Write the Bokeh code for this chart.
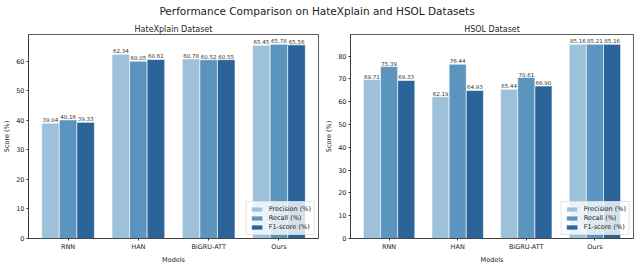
from bokeh.plotting import figure
from bokeh.layouts import column, row
from bokeh.models import Div, Legend, LegendItem, FixedTicker, Range1d, ColumnDataSource
from bokeh.core.properties import value
from bokeh.embed import file_html
from bokeh.resources import INLINE

models = ["RNN", "HAN", "BiGRU-ATT", "Ours"]
series = ["Precision (%)", "Recall (%)", "F1-score (%)"]
hx_precision = [39.04, 62.34, 60.78, 65.45]
hx_recall = [40.16, 60.05, 60.52, 65.78]
hx_f1 = [39.33, 60.61, 60.55, 65.56]
hsol_precision = [69.71, 62.19, 65.44, 85.16]
hsol_recall = [75.39, 76.44, 70.61, 85.21]
hsol_f1 = [69.33, 64.93, 66.90, 85.16]
hx_yticks = [0, 10, 20, 30, 40, 50, 60]
hsol_yticks = [0, 10, 20, 30, 40, 50, 60, 70, 80]

colors = ["#9dc1d9", "#5b95bf", "#2b6498"]
FONT = "DejaVu Sans"
BAR_W = 0.25


def make_panel(title, vals, yticks, frame_w, b_left, b_right):
    ymax = max(max(v) for v in vals) * 1.05
    p = figure(title=title, output_backend="svg", toolbar_location=None,
               frame_width=frame_w, frame_height=204,
               x_range=Range1d(-0.5625, 3.5625), y_range=Range1d(0, ymax),
               min_border_left=b_left, min_border_right=b_right,
               min_border_top=11, min_border_bottom=23)
    p.background_fill_color = "white"
    p.border_fill_color = "white"
    p.outline_line_color = "#333333"
    p.outline_line_width = 0.8
    p.xgrid.visible = False
    p.ygrid.visible = False
    p.title.align = "center"
    p.title.text_font = FONT
    p.title.text_font_size = "8px"
    p.title.text_font_style = "normal"
    p.title.text_color = "#222222"
    p.title.standoff = 1

    items = []
    for k, (name, v, c) in enumerate(zip(series, vals, colors)):
        xs = [i + (k - 1) * BAR_W for i in range(len(models))]
        src = ColumnDataSource(dict(x=xs, top=v, lab=["%.2f" % t for t in v]))
        r = p.vbar(x="x", top="top", width=BAR_W, source=src, fill_color=c,
                   line_color="white", line_width=0.6)
        p.text(x="x", y="top", text="lab", source=src, text_align="center",
               text_baseline="bottom", y_offset=-1, text_font=value(FONT),
               text_font_size="5.5px", text_color="#333333")
        items.append(LegendItem(label=name, renderers=[r]))

    leg = Legend(items=items, location="bottom_right")
    leg.label_text_font = FONT
    leg.label_text_font_size = "6.5px"
    leg.label_text_color = "#222222"
    leg.glyph_height = 6
    leg.glyph_width = 14
    leg.label_height = 6
    leg.spacing = 1
    leg.padding = 3
    leg.margin = 3
    leg.label_standoff = 5
    leg.background_fill_alpha = 0.8
    leg.border_line_color = "#cccccc"
    leg.border_line_width = 0.6
    p.add_layout(leg)

    for ax in (p.xaxis, p.yaxis):
        ax.axis_line_color = "#333333"
        ax.axis_line_width = 0.8
        ax.major_tick_line_color = "#333333"
        ax.major_tick_out = 2
        ax.major_tick_in = 0
        ax.minor_tick_line_color = None
        ax.major_label_text_font = FONT
        ax.major_label_text_font_size = "6.5px"
        ax.major_label_text_color = "#222222"
        ax.major_label_standoff = 2
        ax.axis_label_text_font = FONT
        ax.axis_label_text_font_size = "6.5px"
        ax.axis_label_text_font_style = "normal"
        ax.axis_label_text_color = "#222222"
        ax.axis_label_standoff = 2
    p.xaxis.ticker = FixedTicker(ticks=list(range(len(models))))
    p.xaxis.major_label_overrides = {i: m for i, m in enumerate(models)}
    p.yaxis.ticker = FixedTicker(ticks=yticks)
    p.xaxis.axis_label = "Models"
    p.yaxis.axis_label = "Score (%)"
    return p


p1 = make_panel("HateXplain Dataset", [hx_precision, hx_recall, hx_f1], hx_yticks, 290, 18, 4)
p2 = make_panel("HSOL Dataset", [hsol_precision, hsol_recall, hsol_f1], hsol_yticks, 283, 24, 5)

title = Div(text="Performance Comparison on HateXplain and HSOL Datasets",
            width=624, height=12,
            styles={"text-align": "center", "font-family": FONT, "font-size": "10.5px",
                    "color": "#222222", "line-height": "12px", "width": "624px"})

layout = column(title, row(p1, p2, spacing=0), spacing=0)

open("out.html", "w").write(file_html(layout, INLINE))
